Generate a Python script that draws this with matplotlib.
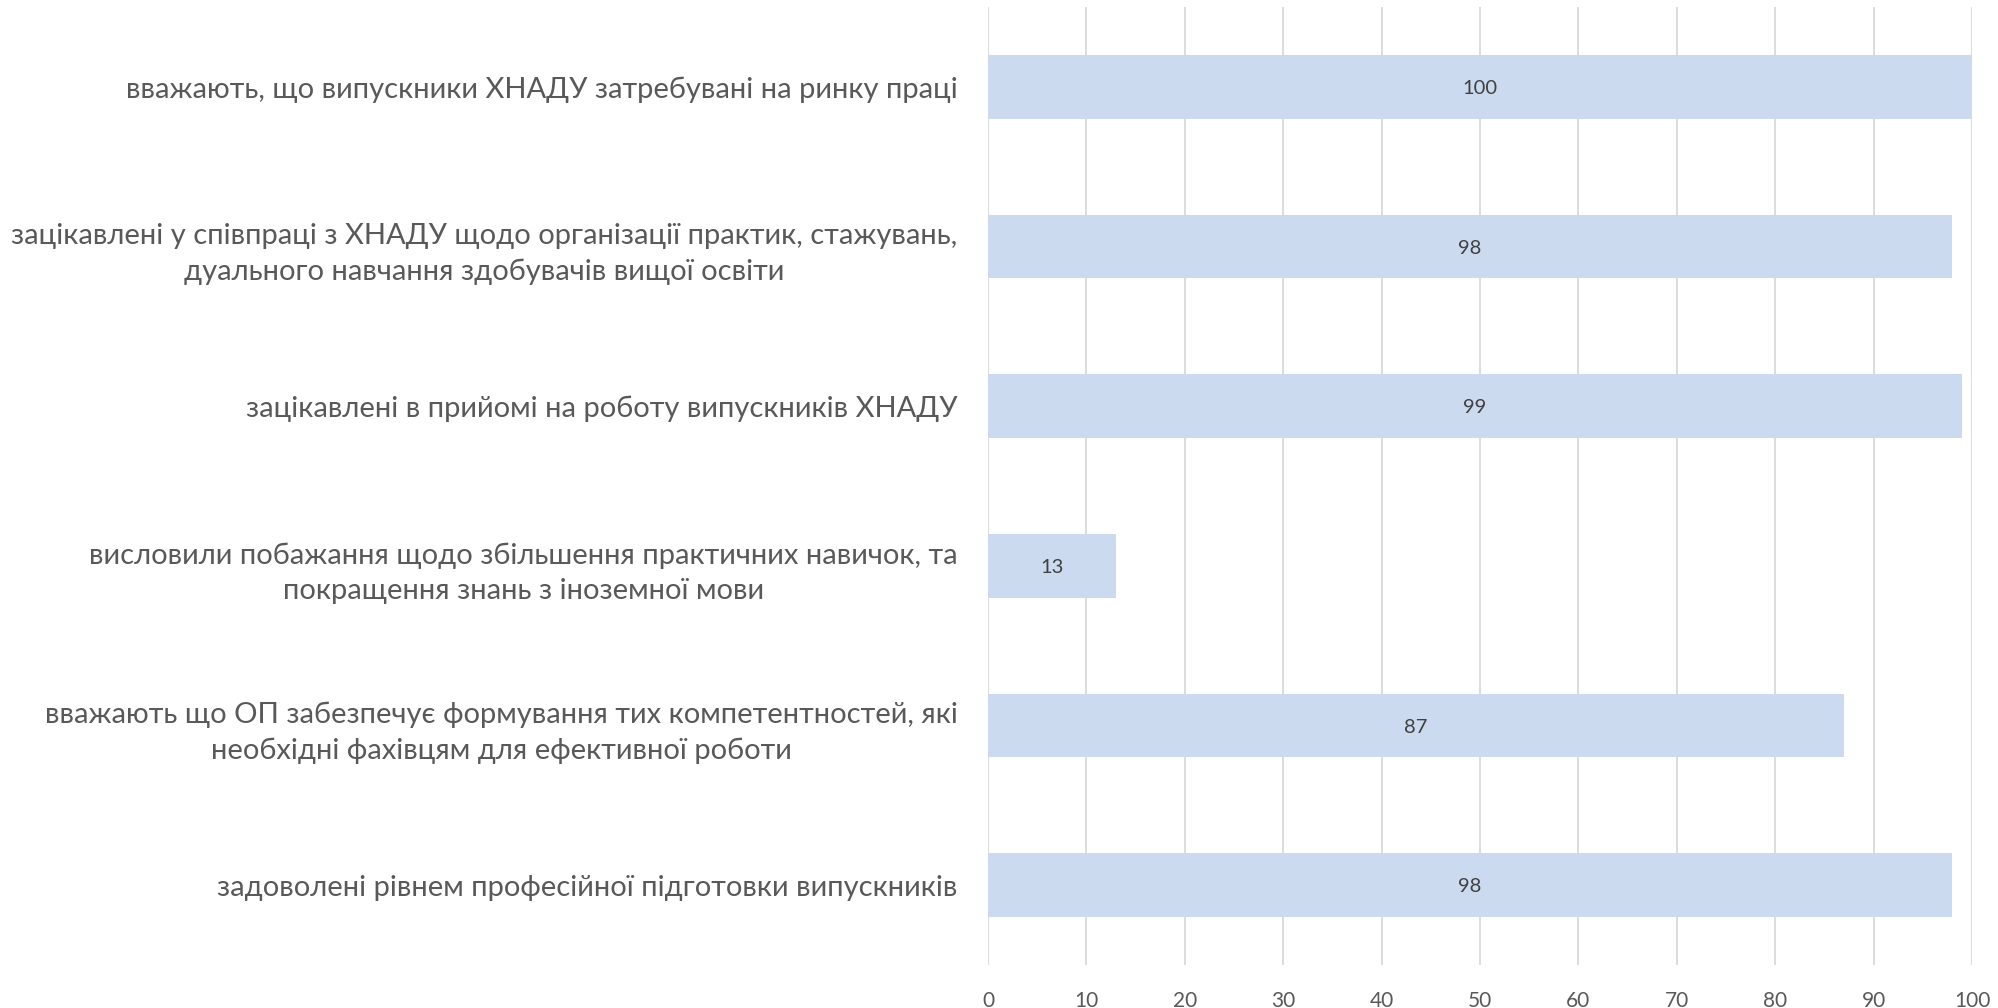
import matplotlib
matplotlib.use("Agg")
import matplotlib.pyplot as plt

categories = [
    "вважають, що випускники ХНАДУ затребувані на ринку праці",
    "зацікавлені у співпраці з ХНАДУ щодо організації практик, стажувань,\nдуального навчання здобувачів вищої освіти",
    "зацікавлені в прийомі на роботу випускників ХНАДУ",
    "висловили побажання щодо збільшення практичних навичок, та\nпокращення знань з іноземної мови",
    "вважають що ОП забезпечує формування тих компетентностей, які\nнеобхідні фахівцям для ефективної роботи",
    "задоволені рівнем професійної підготовки випускників",
]
values = [100, 98, 99, 13, 87, 98]
xticks = [0, 10, 20, 30, 40, 50, 60, 70, 80, 90, 100]

plt.rcParams['font.family'] = ['Lato', 'DejaVu Sans']

fig = plt.figure(figsize=(19.98, 10.08), dpi=100)
ax = fig.add_axes([0.4945, 0.0427, 0.4925, 0.9503])

ypos = list(range(len(categories)))[::-1]
bar_color = "#CBDAEE"
ax.barh(ypos, values, height=0.4, color=bar_color, zorder=2)
for y, v in zip(ypos, values):
    ax.text(v / 2, y - 0.01, str(v), ha='center', va='center', fontsize=14.5, color='#404040', zorder=3)

ax.set_xlim(0, 100)
ax.set_ylim(-0.5, len(categories) - 0.5)
ax.set_xticks(xticks)
ax.set_xticklabels([str(t) for t in xticks], fontsize=15, color='#595959')
ax.set_yticks(ypos)
ax.set_yticklabels(categories, fontsize=21, color='#595959', multialignment='center', linespacing=1.45)
ax.tick_params(axis='both', length=0)
ax.tick_params(axis='x', pad=19)
ax.tick_params(axis='y', pad=22)
ax.grid(axis='x', color='#D9D9D9', linewidth=1.3, zorder=0)
ax.set_axisbelow(True)
for s in ax.spines.values():
    s.set_visible(False)

fig.savefig("out.png", dpi=100, facecolor='white')
